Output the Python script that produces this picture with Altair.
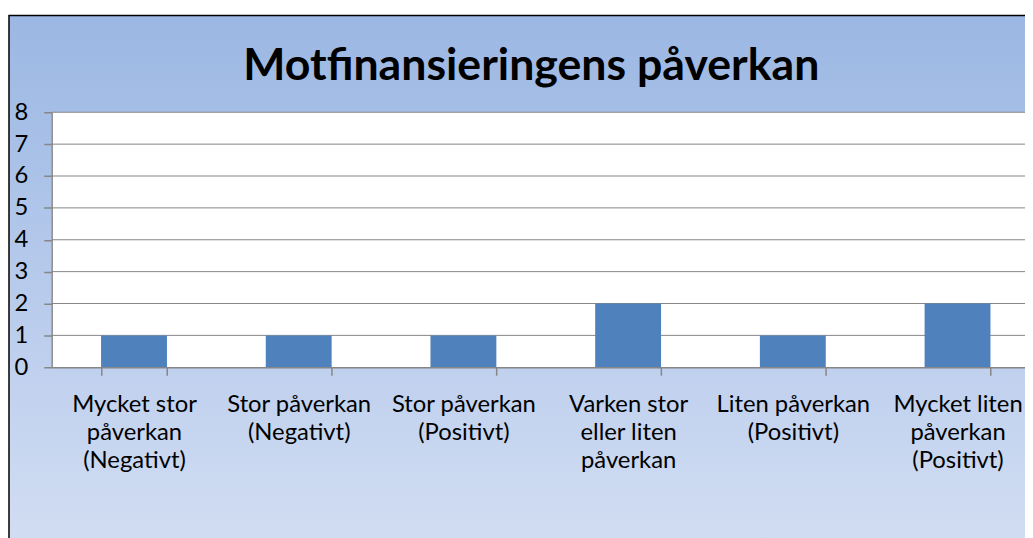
import altair as alt
import pandas as pd

categories = [
    "Mycket stor\npåverkan\n(Negativt)",
    "Stor påverkan\n(Negativt)",
    "Stor påverkan\n(Positivt)",
    "Varken stor\neller liten\npåverkan",
    "Liten påverkan\n(Positivt)",
    "Mycket liten\npåverkan\n(Positivt)",
]
values = [1, 1, 1, 2, 1, 2]
y_ticks = [0, 1, 2, 3, 4, 5, 6, 7, 8]
grid_values = [1, 2, 3, 4, 5, 6, 7, 8]
title_text = "Motfinansieringens påverkan"

bars_df = pd.DataFrame({"cat": categories, "val": values})
grid_df = pd.DataFrame({"val": grid_values})
one_df = pd.DataFrame({"k": [0]})

FONT = "Lato"
GRID = "#868686"
W, H = 981, 257

gradient = {
    "gradient": "linear",
    "x1": 0, "y1": 0, "x2": 0, "y2": 1,
    "stops": [
        {"offset": 0, "color": "#9BB7E3"},
        {"offset": 0.5, "color": "#BFD0EE"},
        {"offset": 1, "color": "#E2E9F6"},
    ],
}

y_axis = alt.Axis(
    title=None,
    values=y_ticks,
    tickCount=9,
    labelOverlap=False,
    labelFont=FONT,
    labelFontSize=24,
    labelColor="black",
    labelPadding=16,
    tickColor=GRID,
    tickSize=8,
    tickWidth=1.5,
    domainColor=GRID,
    domainWidth=1.5,
    grid=False,
    zindex=1,
)
y_scale = alt.Scale(domain=[0, 8], nice=False)

bg = alt.Chart(one_df).mark_rect(fill=gradient, stroke="black", strokeWidth=1.5).encode(
    x=alt.value(-43), x2=alt.value(1200), y=alt.value(-97.5), y2=alt.value(600)
)

plot_bg = alt.Chart(one_df).mark_rect(fill="white").encode(
    x=alt.value(0), x2=alt.value(1200), y=alt.value(0), y2=alt.value(H)
)

grid = alt.Chart(grid_df).mark_rule(color=GRID, strokeWidth=1).encode(
    y=alt.Y("val:Q", scale=y_scale, axis=y_axis)
)

bars = alt.Chart(bars_df).mark_bar(color="#4F81BD").encode(
    x=alt.X(
        "cat:N",
        sort=categories,
        scale=alt.Scale(range=[0, 996], paddingInner=0.6, paddingOuter=0.3),
        axis=alt.Axis(
            title=None,
            labelExpr="split(datum.label, '\\n')",
            labelAngle=0,
            labelFont=FONT,
            labelFontSize=24,
            labelColor="black",
            labelLineHeight=28,
            labelPadding=18,
            labelBaseline="top",
            labelOverlap=False,
            labelLimit=400,
            labelBound=False,
            tickBand="extent",
            tickColor=GRID,
            tickSize=8,
            tickWidth=1.5,
            domainColor=GRID,
            domainWidth=1.5,
            grid=False,
            zindex=1,
        ),
    ),
    y=alt.Y("val:Q", scale=y_scale, axis=y_axis),
)

chart = alt.layer(bg, plot_bg, grid, bars).properties(
    width=W,
    height=H,
    autosize="none",
    padding={"left": 44, "top": 103, "right": 0, "bottom": 170},
    title=alt.TitleParams(
        title_text,
        font=FONT,
        fontSize=45,
        fontWeight="bold",
        color="black",
        anchor="middle",
        baseline="alphabetic",
        offset=-111,
        dx=-7,
        zindex=1,
    ),
).configure_view(strokeWidth=0)

chart.save("out.html", embed_options={"renderer": "svg", "actions": False})
